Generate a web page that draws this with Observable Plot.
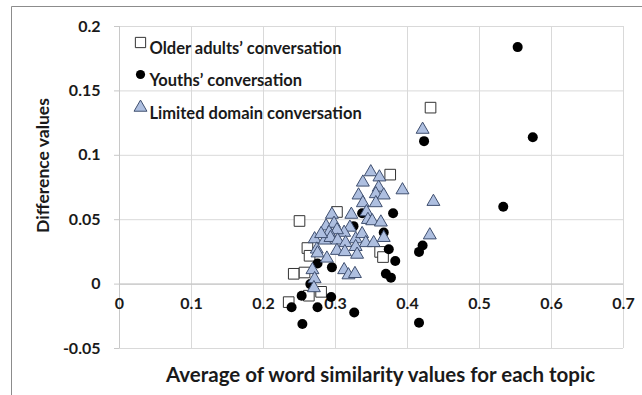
<!DOCTYPE html>
<html><head><meta charset="utf-8">
<script src="https://cdn.jsdelivr.net/npm/d3@7"></script>
<script src="https://cdn.jsdelivr.net/npm/@observablehq/plot@0.6"></script>
<style>
html,body{margin:0;padding:0;overflow:hidden;background:#fff}
#chart{position:absolute;left:0;top:0;width:642px;height:395px}
#chart svg{display:block}
</style></head><body><div id="chart"></div>
<script>
const seriesNames = ["Older adults’ conversation", "Youths’ conversation", "Limited domain conversation"];
const xTitle = "Average of word similarity values for each topic";
const yTitle = "Difference values";
const xTicks = [0, 0.1, 0.2, 0.3, 0.4, 0.5, 0.6, 0.7];
const yTicks = [-0.05, 0, 0.05, 0.1, 0.15, 0.2];

const olderX = [0.432, 0.376, 0.302, 0.250, 0.261, 0.264, 0.362, 0.366, 0.242, 0.257, 0.280, 0.263, 0.235];
const olderY = [0.137, 0.085, 0.056, 0.049, 0.028, 0.022, 0.025, 0.021, 0.008, 0.009, -0.006, -0.009, -0.014];

const youthX = [0.553, 0.574, 0.533, 0.423, 0.421, 0.416, 0.416, 0.380, 0.337, 0.325, 0.367, 0.374, 0.383, 0.370, 0.377, 0.275, 0.295, 0.265, 0.253, 0.239, 0.254, 0.275, 0.294, 0.326];
const youthY = [0.184, 0.114, 0.060, 0.111, 0.030, 0.025, -0.030, 0.055, 0.055, 0.045, 0.040, 0.027, 0.018, 0.008, 0.005, 0.016, 0.013, 0.000, -0.009, -0.018, -0.031, -0.018, -0.010, -0.022];

const limitedX = [0.421, 0.436, 0.431, 0.349, 0.361, 0.338, 0.360, 0.393, 0.332, 0.356, 0.367, 0.338, 0.356, 0.295, 0.322, 0.343, 0.345, 0.351, 0.363, 0.287, 0.298, 0.320, 0.312, 0.302, 0.291, 0.271, 0.285, 0.293, 0.303, 0.314, 0.328, 0.337, 0.342, 0.353, 0.367, 0.274, 0.302, 0.313, 0.328, 0.330, 0.288, 0.275, 0.268, 0.271, 0.270, 0.312, 0.318, 0.327, 0.280];
const limitedY = [0.120, 0.064, 0.038, 0.087, 0.083, 0.079, 0.075, 0.073, 0.069, 0.070, 0.069, 0.063, 0.063, 0.054, 0.054, 0.056, 0.050, 0.049, 0.048, 0.045, 0.047, 0.044, 0.040, 0.042, 0.040, 0.035, 0.034, 0.036, 0.034, 0.032, 0.035, 0.039, 0.032, 0.032, 0.036, 0.027, 0.026, 0.025, 0.029, 0.023, 0.020, 0.024, 0.011, 0.004, -0.003, 0.011, 0.007, 0.008, 0.039];

const zip = (xs, ys) => xs.map((x, i) => ({x, y: ys[i]}));
const older = zip(olderX, olderY);
const youth = zip(youthX, youthY);
const limited = zip(limitedX, limitedY);
const fmt = d => String(+d.toFixed(2));

const INK = "#1a1a1a";
const FONT = "Lato";
const squareStyle = {symbol: "square", r: 6, fill: "white", stroke: "#333", strokeWidth: 1};
const circleStyle = {symbol: "circle", r: 5, fill: "#000", stroke: "none"};
const triStyle = {symbol: "triangle", r: 4.8, fill: "#aebfe0", stroke: "#3f4f6f", strokeWidth: 1};
const legendDy = [16, 48, 81];
const legendStyles = [{...squareStyle, r: 5.8}, {...circleStyle, r: 4.6}, triStyle];

const chart = Plot.plot({
  width: 642, height: 395,
  marginLeft: 119, marginRight: 19, marginTop: 26, marginBottom: 47,
  style: {fontFamily: FONT, background: "#fff", color: INK},
  x: {domain: [0, 0.7], axis: null},
  y: {domain: [-0.05, 0.2], axis: null},
  marks: [
    Plot.gridX(xTicks, {stroke: "#d9d9d9", strokeOpacity: 1}),
    Plot.gridY(yTicks, {stroke: "#d9d9d9", strokeOpacity: 1}),
    Plot.ruleY([0], {stroke: "#bfbfbf"}),
    Plot.ruleX([0], {stroke: "#c8c8c8"}),
    Plot.axisY(yTicks, {tickSize: 5, tickFormat: () => "", stroke: "#c8c8c8", label: null}),
    Plot.text(yTicks, {y: d => d, frameAnchor: "left", dx: -19, textAnchor: "end", text: fmt, fontSize: 16, fontWeight: "bold", fill: INK}),
    Plot.text(xTicks, {x: d => d, y: () => 0, dy: 20, text: fmt, fontSize: 16, fontWeight: "bold", fill: INK}),
    Plot.text([yTitle], {text: d => d, frameAnchor: "left", textAnchor: "middle", dx: -76, dy: -22, rotate: -90, fontSize: 17.5, fontWeight: "bold", fill: INK}),
    Plot.text([xTitle], {text: d => d, frameAnchor: "bottom", textAnchor: "middle", dx: 9, dy: 33, fontSize: 20.5, fontWeight: "bold", fill: INK}),
    Plot.dot(older, {x: "x", y: "y", ...squareStyle}),
    Plot.dot(youth, {x: "x", y: "y", ...circleStyle}),
    Plot.dot(limited, {x: "x", y: "y", ...triStyle}),
    ...seriesNames.map((name, i) => Plot.dot([name], {frameAnchor: "top-left", dx: 21, dy: legendDy[i], ...legendStyles[i]})),
    ...seriesNames.map((name, i) => Plot.text([name], {text: d => d, frameAnchor: "top-left", dx: 30, dy: legendDy[i], textAnchor: "start", fontSize: 16.5, fontWeight: "bold", fill: INK}))
  ]
});
// chart-area border (top and left edges visible in the reference)
d3.select(chart).append("path")
  .attr("d", "M11.5,395V6.5H642")
  .attr("fill", "none").attr("stroke", "#8c8c8c");
document.getElementById("chart").appendChild(chart);
</script></body></html>
